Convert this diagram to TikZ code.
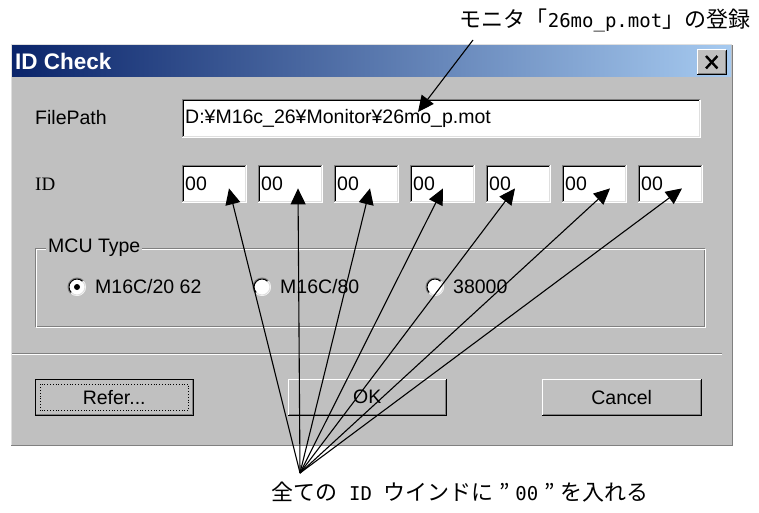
\documentclass[tikz,border=0pt]{standalone}
\usepackage{fontspec}
\setmainfont{Liberation Sans}
\newfontfamily\jpfont{Noto Sans CJK JP}
\newfontfamily\serifui{Liberation Serif}
\newfontfamily\latinmono{DejaVu Sans Mono}
\usetikzlibrary{arrows.meta}
\definecolor{facegray}{HTML}{C0C0C0}
\definecolor{edgegray}{HTML}{808080}
\definecolor{edgelight}{HTML}{DFDFDF}
\definecolor{captionL}{HTML}{0A246A}
\definecolor{captionR}{HTML}{A6CAF0}
\newcommand{\halfw}[1]{{\latinmono\fontsize{19}{19}\selectfont #1}}
\newcommand{\fullq}{\makebox[22pt][c]{”}}
\tikzset{
	uitext/.style={font=\fontsize{19.5}{19.5}\selectfont, inner sep=0pt},
	fieldbox/.style={fill=white, anchor=north west, minimum height=37pt, inner xsep=3pt, inner ysep=0pt, align=left, font=\fontsize{19.5}{19.5}\selectfont},
	pushbtn/.style={fill=facegray, anchor=north west, minimum height=36pt, inner sep=0pt, font=\fontsize{19.5}{19.5}\selectfont},
	radiobtn/.style={circle, fill=white, minimum size=18pt, inner sep=0pt},
	pointer/.style={line width=1.1pt, -{Triangle[length=16pt,width=15pt]}},
	notetext/.style={font=\jpfont\fontsize{22}{22}\selectfont, inner sep=0pt},
}
\newcommand{\sunkenedge}[1]{%
	\draw[edgegray, line width=1pt] (#1.south west) -- (#1.north west) -- (#1.north east);
	\draw[black, line width=1pt] ([shift={(1,-1)}]#1.south west) -- ([shift={(1,1)}]#1.north west) -- ([shift={(-1,1)}]#1.north east);
	\draw[edgelight, line width=1pt] ([shift={(1,-1)}]#1.south west) -- ([shift={(-1,-1)}]#1.south east) -- ([shift={(-1,1)}]#1.north east);
	\draw[white, line width=1pt] (#1.south west) -- (#1.south east) -- (#1.north east);
}
\newcommand{\raisededge}[1]{%
	\draw[white, line width=1pt] (#1.south west) -- (#1.north west) -- (#1.north east);
	\draw[edgegray, line width=1pt] ([shift={(1,-1)}]#1.south west) -- ([shift={(-1,-1)}]#1.south east) -- ([shift={(-1,1)}]#1.north east);
	\draw[black, line width=1pt] (#1.south west) -- (#1.south east) -- (#1.north east);
}
\begin{document}
\begin{tikzpicture}[x=1pt, y=-1pt]
	\useasboundingbox (0,0) rectangle (759,513);
	\fill[white] (0,0) rectangle (759,513);
	\fill[facegray] (11,45) rectangle (732,445);
	\draw[edgegray, line width=1pt] (11,445) -- (732,445) -- (732,45);
	\draw[edgelight, line width=1pt] (11,445) -- (11,45) -- (732,45);
	\shade[left color=captionL, right color=captionR] (12,46) rectangle (731,77);
	\node[uitext, anchor=west, text=white, font=\bfseries\fontsize{22.5}{22.5}\selectfont] (title) at (15,61) {ID Check};
	\node[pushbtn, minimum width=29pt, minimum height=24pt] (closebtn) at (697,50) {};
	\raisededge{closebtn}
	\draw[line width=2.4pt] ([shift={(9,6)}]closebtn.north west) -- ([shift={(-9,-6)}]closebtn.south east);
	\draw[line width=2.4pt] ([shift={(9,-6)}]closebtn.south west) -- ([shift={(-9,6)}]closebtn.north east);

	\node[uitext, anchor=west] (pathlabel) at (35,118) {FilePath};
	\node[fieldbox, text width=512pt] (pathfield) at (182,100) {D:¥M16c\_26¥Monitor¥26mo\_p.mot};
	\sunkenedge{pathfield}

	\node[uitext, anchor=west, font=\serifui\fontsize{19}{19}\selectfont] (idlabel) at (35,184) {ID};
	\foreach \i/\x in {1/182,2/258,3/334,4/410,5/486,6/562,7/638}{
		\node[fieldbox, text width=58pt] (id\i) at (\x,165) {00};
		\sunkenedge{id\i}
	}

	\draw[edgegray, line width=1pt] (35,248) rectangle (704,326);
	\draw[white, line width=1pt] (36,249) rectangle (705,327);
	\node[uitext, anchor=west, fill=facegray, inner xsep=2pt] (mcugroup) at (46,248) {MCU Type};
	\foreach \i/\x/\t in {1/77/{M16C/20 62},2/262/{M16C/80},3/435/{38000}}{
		\node[radiobtn] (mcu\i) at (\x,287) {};
		\draw[edgegray, line width=1pt] (mcu\i) ++(-45:9) arc (-45:-225:9);
		\draw[black, line width=1pt] (mcu\i) ++(-45:8) arc (-45:-225:8);
		\draw[edgelight, line width=1pt] (mcu\i) ++(-45:8) arc (-45:135:8);
		\node[uitext, anchor=west] (mcutext\i) at (\x+18,287) {\t};
	}
	\fill (mcu1) circle (3);

	\draw[edgegray, line width=1pt] (12,353) -- (722,353);
	\draw[white, line width=1pt] (12,354) -- (722,354);

	\node[pushbtn, minimum width=158pt] (refer) at (35,379) {Refer...};
	\raisededge{refer}
	\draw[line width=1pt] (refer.south west) rectangle (refer.north east);
	\draw[dotted, line width=0.8pt] ([shift={(5,-5)}]refer.south west) rectangle ([shift={(-5,5)}]refer.north east);
	\node[pushbtn, minimum width=158pt] (okbtn) at (288,379) {OK};
	\raisededge{okbtn}
	\node[pushbtn, minimum width=159pt] (cancel) at (542,379) {Cancel};
	\raisededge{cancel}

	\node[notetext] (regnote) at (605,20) {モニタ「\halfw{26mo\_p.mot}」の登録};
	\coordinate (regfrom) at (473,40);
	\coordinate (regtip) at (418,112);
	\draw[pointer] (regfrom) -- (regtip);

	\node[notetext] (allnote) at (460,492) {全ての\halfw{ ID }ウインドに\fullq\halfw{00}\fullq を入れる};
	\coordinate (hub) at (300,473);
	\foreach \i/\dx in {1/47,2/40,3/36,4/33,5/29,6/48,7/44}{
		\coordinate (tip\i) at ([shift={(\dx,-14)}]id\i.south west);
		\draw[pointer] (hub) -- (tip\i);
	}
\end{tikzpicture}
\end{document}
